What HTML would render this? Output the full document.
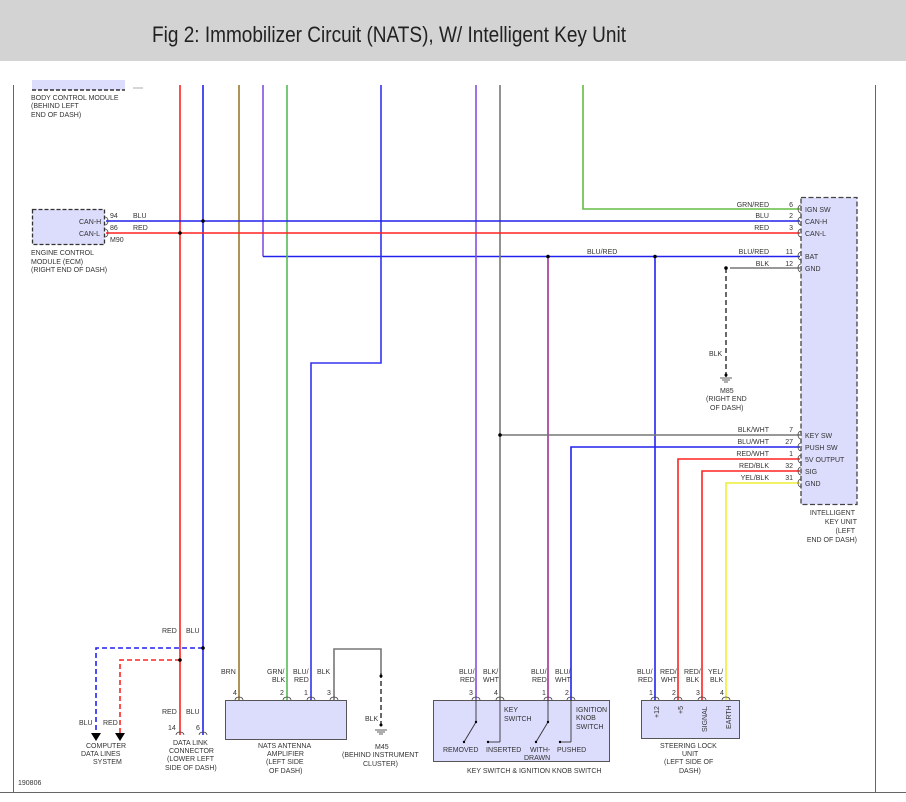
<!DOCTYPE html>
<html><head><meta charset="utf-8"><style>
html,body{margin:0;padding:0;background:#fff;}
svg{display:block;font-family:"Liberation Sans",Arial,sans-serif;}
.t{font-size:7px;fill:#333;}
.p{font-size:7px;fill:#333;}
</style></head><body>
<svg width="906" height="802" viewBox="0 0 906 802" xmlns="http://www.w3.org/2000/svg">
<rect x="0" y="0" width="906" height="61" fill="#d3d3d3"/>
<text x="152" y="42" font-size="22" fill="#222" textLength="474" lengthAdjust="spacingAndGlyphs">Fig 2: Immobilizer Circuit (NATS), W/ Intelligent Key Unit</text>
<!-- frame -->
<line x1="13.5" y1="85" x2="13.5" y2="792" stroke="#666" stroke-width="1"/>
<line x1="875.5" y1="85" x2="875.5" y2="792" stroke="#666" stroke-width="1"/>
<line x1="0" y1="792.5" x2="906" y2="792.5" stroke="#666" stroke-width="1"/>
<text class="t" x="18" y="785" font-size="6">190806</text>

<!-- BCM -->
<rect x="32" y="80" width="93" height="10" fill="#dcdcfc"/>
<line x1="32" y1="90" x2="125" y2="90" stroke="#333" stroke-width="1.5" stroke-dasharray="4,2"/>
<line x1="133" y1="88" x2="143" y2="88" stroke="#999" stroke-width="0.8"/>
<text class="t" x="31" y="100">BODY CONTROL MODULE</text>
<text class="t" x="31" y="108">(BEHIND LEFT</text>
<text class="t" x="31" y="117">END OF DASH)</text>

<!-- ECM -->
<rect x="32.5" y="209.5" width="72" height="35" fill="#dcdcfc" stroke="#333" stroke-width="1.3" stroke-dasharray="4,2"/>
<text class="t" x="79" y="224">CAN-H</text>
<text class="t" x="79" y="236">CAN-L</text>
<text class="t" x="110" y="218">94</text>
<text class="t" x="110" y="230">86</text>
<text class="t" x="110" y="242">M90</text>
<text class="t" x="133" y="218">BLU</text>
<text class="t" x="133" y="230">RED</text>
<text class="t" x="31" y="255">ENGINE CONTROL</text>
<text class="t" x="31" y="264">MODULE (ECM)</text>
<text class="t" x="31" y="272">(RIGHT END OF DASH)</text>

<g fill="none" stroke-width="1.6">
<!-- verticals -->
<polyline points="180,85 180,735" stroke="#f22"/>
<polyline points="203,85 203,735" stroke="#22e"/>
<polyline points="239,85 239,700" stroke="#9a7a30"/>
<polyline points="263,85 263,256.5" stroke="#8050e0"/>
<polyline points="263,256.5 800,256.5" stroke="#22e"/>
<polyline points="287,85 287,700" stroke="#5b5"/>
<polyline points="381,85 381,363 311,363 311,700" stroke="#33e"/>
<polyline points="476,85 476,700" stroke="#8050e0"/>
<polyline points="500,85 500,700" stroke="#777"/>
<polyline points="583,85 583,209 800,209" stroke="#6b4"/>
<polyline points="548,256 548,700" stroke="#a3309a"/>
<polyline points="655,256 655,700" stroke="#22e"/>
<polyline points="500,435 800,435" stroke="#777"/>
<polyline points="571,700 571,447 800,447" stroke="#22e"/>
<polyline points="678,700 678,459 800,459" stroke="#f22"/>
<polyline points="702,700 702,471 800,471" stroke="#f22"/>
<polyline points="726,700 726,483 800,483" stroke="#ee3"/>
<polyline points="730,268 800,268" stroke="#777"/>
<!-- CAN horizontals -->
<polyline points="106,221 800,221" stroke="#22e"/>
<polyline points="106,233 800,233" stroke="#f22"/>
<!-- bottom data lines -->
<polyline points="203,648 96,648 96,733" stroke="#22e" stroke-dasharray="5,3"/>
<polyline points="180,660 120,660 120,733" stroke="#f22" stroke-dasharray="5,3"/>
<!-- BLK ground M45 -->
<polyline points="334,700 334,649 381,649 381,673" stroke="#777"/>
<polyline points="381,673 381,728" stroke="#444" stroke-dasharray="5,3"/>
<polyline points="726,268 726,378" stroke="#444" stroke-dasharray="5,3"/>
</g>
<!-- junction gaps/dots -->
<g fill="#000">
<circle cx="203" cy="221" r="1.8"/><circle cx="180" cy="233" r="1.8"/>
<circle cx="548" cy="256.5" r="1.8"/><circle cx="655" cy="256.5" r="1.8"/>
<circle cx="500" cy="435" r="1.8"/><circle cx="726" cy="268" r="1.8"/>
<circle cx="203" cy="648" r="1.8"/><circle cx="180" cy="660" r="1.8"/>
<circle cx="381" cy="676" r="1.5"/><circle cx="726" cy="375" r="1.5"/>
<circle cx="381" cy="725" r="1.5"/>
<polygon points="91,733 101,733 96,741"/><polygon points="115,733 125,733 120,741"/>
</g>
<!-- grounds -->
<g stroke="#333" stroke-width="0.8">
<line x1="375" y1="730" x2="387" y2="730"/><line x1="377" y1="732" x2="385" y2="732"/><line x1="379" y1="734" x2="383" y2="734"/>
<line x1="720" y1="378" x2="732" y2="378"/><line x1="722" y1="380" x2="730" y2="380"/><line x1="724" y1="382" x2="728" y2="382"/>
</g>

<!-- Intelligent key unit -->
<rect x="801" y="197.5" width="56" height="307" fill="#dcdcfc" stroke="#444" stroke-width="1.3" stroke-dasharray="5,2.5"/>
<g class="t">
<text x="805" y="212">IGN SW</text><text x="805" y="224">CAN-H</text><text x="805" y="236">CAN-L</text>
<text x="805" y="259">BAT</text><text x="805" y="271">GND</text>
<text x="805" y="438">KEY SW</text><text x="805" y="450">PUSH SW</text><text x="805" y="462">5V OUTPUT</text>
<text x="805" y="474">SIG</text><text x="805" y="486">GND</text>
</g>
<g class="t" text-anchor="end">
<text x="769" y="207">GRN/RED</text><text x="793" y="207">6</text>
<text x="769" y="218">BLU</text><text x="793" y="218">2</text>
<text x="769" y="230">RED</text><text x="793" y="230">3</text>
<text x="769" y="254">BLU/RED</text><text x="793" y="254">11</text>
<text x="769" y="266">BLK</text><text x="793" y="266">12</text>
<text x="769" y="432">BLK/WHT</text><text x="793" y="432">7</text>
<text x="769" y="444">BLU/WHT</text><text x="793" y="444">27</text>
<text x="769" y="456">RED/WHT</text><text x="793" y="456">1</text>
<text x="769" y="468">RED/BLK</text><text x="793" y="468">32</text>
<text x="769" y="480">YEL/BLK</text><text x="793" y="480">31</text>
</g>
<g fill="none" stroke="#444" stroke-width="0.8">
<path d="M801,205 a3,4 0 0 0 0,8"/><path d="M801,217 a3,4 0 0 0 0,8"/><path d="M801,229 a3,4 0 0 0 0,8"/>
<path d="M801,252 a3,4 0 0 0 0,8"/><path d="M801,264 a3,4 0 0 0 0,8"/>
<path d="M801,431 a3,4 0 0 0 0,8"/><path d="M801,443 a3,4 0 0 0 0,8"/><path d="M801,455 a3,4 0 0 0 0,8"/>
<path d="M801,467 a3,4 0 0 0 0,8"/><path d="M801,479 a3,4 0 0 0 0,8"/>
<path d="M105,217 a3,4 0 0 1 0,8"/><path d="M105,229 a3,4 0 0 1 0,8"/>
</g>
<text class="t" x="587" y="254">BLU/RED</text>
<text class="t" x="709" y="356">BLK</text>
<text class="t" x="720" y="393">M85</text>
<text class="t" x="706" y="401">(RIGHT END</text>
<text class="t" x="710" y="410">OF DASH)</text>
<g class="t" text-anchor="end">
<text x="855" y="515">INTELLIGENT</text><text x="857" y="524">KEY UNIT</text><text x="855" y="533">(LEFT</text><text x="857" y="542">END OF DASH)</text>
</g>

<!-- bottom left labels -->
<g class="t">
<text x="162" y="633">RED</text><text x="186" y="633">BLU</text>
<text x="162" y="714">RED</text><text x="186" y="714">BLU</text>
<text x="168" y="730">14</text><text x="196" y="730">6</text>
<text x="79" y="725">BLU</text><text x="103" y="725">RED</text>
<text x="86" y="748">COMPUTER</text><text x="81" y="756">DATA LINES</text><text x="93" y="764">SYSTEM</text>
<text x="173" y="745">DATA LINK</text><text x="169" y="753">CONNECTOR</text><text x="167" y="761">(LOWER LEFT</text><text x="165" y="770">SIDE OF DASH)</text>
<text x="221" y="674">BRN</text>
<text x="267" y="674">GRN/</text><text x="272" y="682">BLK</text>
<text x="293" y="674">BLU/</text><text x="294" y="682">RED</text>
<text x="317" y="674">BLK</text>
<text x="233" y="695">4</text><text x="280" y="695">2</text><text x="304" y="695">1</text><text x="327" y="695">3</text>
<text x="365" y="721">BLK</text>
<text x="375" y="749">M45</text>
<text x="342" y="757">(BEHIND INSTRUMENT</text><text x="363" y="766">CLUSTER)</text>
<text x="258" y="748">NATS ANTENNA</text><text x="267" y="756">AMPLIFIER</text><text x="266" y="764">(LEFT SIDE</text><text x="269" y="773">OF DASH)</text>
</g>
<g fill="none" stroke="#444" stroke-width="0.8">
<path d="M176,735 a4,3 0 0 1 8,0"/><path d="M199,735 a4,3 0 0 1 8,0"/>
<path d="M235,700 a4,3 0 0 1 8,0"/><path d="M283,700 a4,3 0 0 1 8,0"/><path d="M307,700 a4,3 0 0 1 8,0"/><path d="M330,700 a4,3 0 0 1 8,0"/>
<path d="M472,700 a4,3 0 0 1 8,0"/><path d="M496,700 a4,3 0 0 1 8,0"/><path d="M544,700 a4,3 0 0 1 8,0"/><path d="M567,700 a4,3 0 0 1 8,0"/>
<path d="M651,700 a4,3 0 0 1 8,0"/><path d="M674,700 a4,3 0 0 1 8,0"/><path d="M698,700 a4,3 0 0 1 8,0"/><path d="M722,700 a4,3 0 0 1 8,0"/>
</g>
<rect x="225.5" y="700.5" width="121" height="39" fill="#dcdcfc" stroke="#555" stroke-width="1"/>

<!-- key switch -->
<rect x="433.5" y="700.5" width="176" height="61" fill="#dcdcfc" stroke="#555" stroke-width="1"/>
<g stroke="#333" stroke-width="0.9" fill="none">
<line x1="476" y1="700" x2="476" y2="722"/><line x1="476" y1="722" x2="464" y2="742"/>
<line x1="500" y1="700" x2="500" y2="742"/><line x1="500" y1="742" x2="488" y2="742"/>
<line x1="548" y1="700" x2="548" y2="722"/><line x1="548" y1="722" x2="536" y2="742"/>
<line x1="571" y1="700" x2="571" y2="742"/><line x1="571" y1="742" x2="560" y2="742"/>
</g>
<g fill="#000"><circle cx="476" cy="722" r="1.2"/><circle cx="464" cy="742" r="1.2"/><circle cx="488" cy="742" r="1.2"/><circle cx="548" cy="722" r="1.2"/><circle cx="536" cy="742" r="1.2"/><circle cx="560" cy="742" r="1.2"/></g>
<g class="t">
<text x="459" y="674">BLU/</text><text x="460" y="682">RED</text>
<text x="483" y="674">BLK/</text><text x="483" y="682">WHT</text>
<text x="531" y="674">BLU/</text><text x="532" y="682">RED</text>
<text x="555" y="674">BLU/</text><text x="555" y="682">WHT</text>
<text x="469" y="695">3</text><text x="494" y="695">4</text><text x="542" y="695">1</text><text x="565" y="695">2</text>
<text x="504" y="712">KEY</text><text x="504" y="721">SWITCH</text>
<text x="576" y="712">IGNITION</text><text x="576" y="720">KNOB</text><text x="576" y="729">SWITCH</text>
<text x="443" y="752">REMOVED</text><text x="486" y="752">INSERTED</text>
<text x="530" y="752">WITH-</text><text x="524" y="760">DRAWN</text>
<text x="557" y="752">PUSHED</text>
<text x="467" y="773">KEY SWITCH &amp; IGNITION KNOB SWITCH</text>
</g>

<!-- steering lock -->
<rect x="641.5" y="700.5" width="98" height="38" fill="#dcdcfc" stroke="#555" stroke-width="1"/>
<g class="t">
<text x="637" y="674">BLU/</text><text x="638" y="682">RED</text>
<text x="660" y="674">RED/</text><text x="661" y="682">WHT</text>
<text x="684" y="674">RED/</text><text x="686" y="682">BLK</text>
<text x="708" y="674">YEL/</text><text x="710" y="682">BLK</text>
<text x="649" y="695">1</text><text x="672" y="695">2</text><text x="696" y="695">3</text><text x="720" y="695">4</text>
<text transform="translate(659,718) rotate(-90)">+12</text>
<text transform="translate(683,714) rotate(-90)">+5</text>
<text transform="translate(707,732) rotate(-90)">SIGNAL</text>
<text transform="translate(731,729) rotate(-90)">EARTH</text>
<text x="660" y="748">STEERING LOCK</text><text x="682" y="756">UNIT</text><text x="664" y="764">(LEFT SIDE OF</text><text x="679" y="773">DASH)</text>
</g>
</svg>
</body></html>
